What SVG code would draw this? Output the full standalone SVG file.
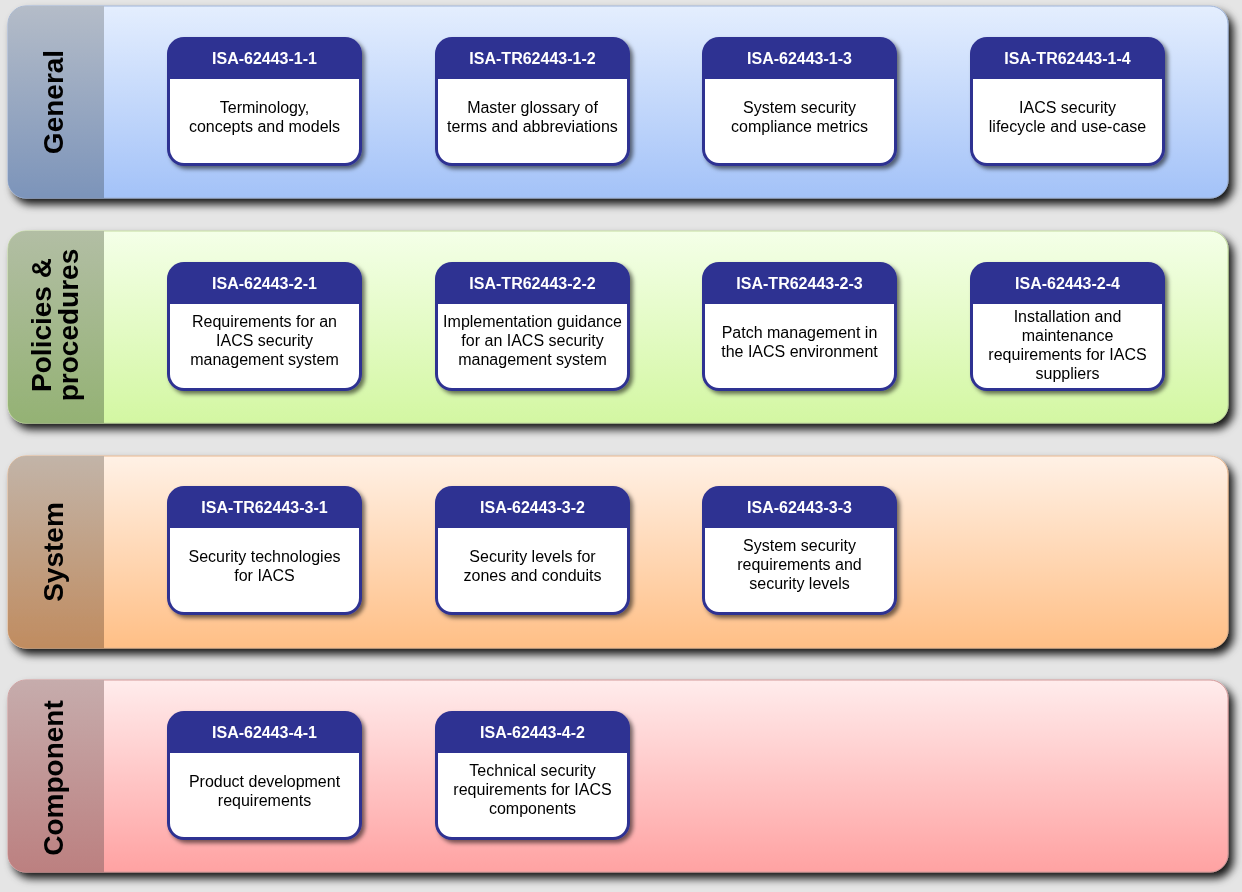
<svg xmlns="http://www.w3.org/2000/svg" width="1242" height="892" viewBox="0 0 1242 892">
<defs>
<style>
.bandlbl{font-family:"Liberation Sans",Arial,sans-serif;font-weight:bold;font-size:28px;fill:#000;text-anchor:middle}
.ttl{font-family:"Liberation Sans",Arial,sans-serif;font-weight:bold;font-size:16px;fill:#fff;text-anchor:middle}
.body{font-family:"Liberation Sans",Arial,sans-serif;font-size:16px;fill:#000;text-anchor:middle}
.boxo{fill:#2e3192}
.boxi{fill:#fff}
</style>
<filter id="bsh" x="-5%" y="-10%" width="112%" height="135%">
<feDropShadow dx="5" dy="6" stdDeviation="4" flood-color="#000" flood-opacity="0.9"/>
</filter>
<filter id="nsh" x="-10%" y="-10%" width="125%" height="125%">
<feDropShadow dx="3" dy="3" stdDeviation="2" flood-color="#000" flood-opacity="0.55"/>
</filter>
<linearGradient id="g1" x1="0" y1="0" x2="0" y2="1"><stop offset="0" stop-color="#e4eefe"/><stop offset="1" stop-color="#a3c2f8"/></linearGradient>
<linearGradient id="s1" x1="0" y1="0" x2="0" y2="1"><stop offset="0" stop-color="#b4bcc8"/><stop offset="1" stop-color="#7c94ba"/></linearGradient>
<linearGradient id="g2" x1="0" y1="0" x2="0" y2="1"><stop offset="0" stop-color="#f4ffe8"/><stop offset="1" stop-color="#d3f7a2"/></linearGradient>
<linearGradient id="s2" x1="0" y1="0" x2="0" y2="1"><stop offset="0" stop-color="#b2bea4"/><stop offset="1" stop-color="#94b274"/></linearGradient>
<linearGradient id="g3" x1="0" y1="0" x2="0" y2="1"><stop offset="0" stop-color="#fff1e6"/><stop offset="1" stop-color="#ffbf86"/></linearGradient>
<linearGradient id="s3" x1="0" y1="0" x2="0" y2="1"><stop offset="0" stop-color="#c2b4a8"/><stop offset="1" stop-color="#c08c60"/></linearGradient>
<linearGradient id="g4" x1="0" y1="0" x2="0" y2="1"><stop offset="0" stop-color="#ffecec"/><stop offset="1" stop-color="#ffa2a2"/></linearGradient>
<linearGradient id="s4" x1="0" y1="0" x2="0" y2="1"><stop offset="0" stop-color="#c6acac"/><stop offset="1" stop-color="#bc8080"/></linearGradient>
</defs>
<rect width="1242" height="892" fill="#e5e5e5"/>

<g id="band-general" filter="url(#bsh)">
<rect x="8" y="6" width="1220" height="192" rx="18" fill="url(#g1)" stroke="#9fb4d8" stroke-width="1"/>
<path d="M26,6 H104 V198 H26 A18,18 0 0 1 8,180 V24 A18,18 0 0 1 26,6 Z" fill="url(#s1)"/>
<text class="bandlbl" x="63" y="102" transform="rotate(-90 63 102)">General</text>
</g>
<g id="band-policies" filter="url(#bsh)">
<rect x="8" y="231" width="1220" height="192" rx="18" fill="url(#g2)" stroke="#c4dca0" stroke-width="1"/>
<path d="M26,231 H104 V423 H26 A18,18 0 0 1 8,405 V249 A18,18 0 0 1 26,231 Z" fill="url(#s2)"/>
<text class="bandlbl" transform="translate(51 325) rotate(-90)"><tspan x="0" y="0">Policies &amp;</tspan><tspan x="0" y="27">procedures</tspan></text>
</g>
<g id="band-system" filter="url(#bsh)">
<rect x="8" y="456" width="1220" height="192" rx="18" fill="url(#g3)" stroke="#e8b890" stroke-width="1"/>
<path d="M26,456 H104 V648 H26 A18,18 0 0 1 8,630 V474 A18,18 0 0 1 26,456 Z" fill="url(#s3)"/>
<text class="bandlbl" x="63" y="552" transform="rotate(-90 63 552)">System</text>
</g>
<g id="band-component" filter="url(#bsh)">
<rect x="8" y="680" width="1220" height="192" rx="18" fill="url(#g4)" stroke="#d49a9a" stroke-width="1"/>
<path d="M26,680 H104 V872 H26 A18,18 0 0 1 8,854 V698 A18,18 0 0 1 26,680 Z" fill="url(#s4)"/>
<text class="bandlbl" x="63" y="778" transform="rotate(-90 63 778)">Component</text>
</g>

<g id="connectors"/>

<!-- Row 1 -->
<g id="isa-62443-1-1" transform="translate(167 37)" filter="url(#nsh)">
<rect class="boxo" width="195" height="129" rx="17"/>
<path class="boxi" d="M3,42 H192 V112 A14,14 0 0 1 178,126 H17 A14,14 0 0 1 3,112 Z"/>
<text class="ttl" x="97.5" y="27">ISA-62443-1-1</text>
<text class="body"><tspan x="97.5" y="76">Terminology,</tspan><tspan x="97.5" y="95">concepts and models</tspan></text>
</g>
<g id="isa-tr62443-1-2" transform="translate(435 37)" filter="url(#nsh)">
<rect class="boxo" width="195" height="129" rx="17"/>
<path class="boxi" d="M3,42 H192 V112 A14,14 0 0 1 178,126 H17 A14,14 0 0 1 3,112 Z"/>
<text class="ttl" x="97.5" y="27">ISA-TR62443-1-2</text>
<text class="body"><tspan x="97.5" y="76">Master glossary of</tspan><tspan x="97.5" y="95">terms and abbreviations</tspan></text>
</g>
<g id="isa-62443-1-3" transform="translate(702 37)" filter="url(#nsh)">
<rect class="boxo" width="195" height="129" rx="17"/>
<path class="boxi" d="M3,42 H192 V112 A14,14 0 0 1 178,126 H17 A14,14 0 0 1 3,112 Z"/>
<text class="ttl" x="97.5" y="27">ISA-62443-1-3</text>
<text class="body"><tspan x="97.5" y="76">System security</tspan><tspan x="97.5" y="95">compliance metrics</tspan></text>
</g>
<g id="isa-tr62443-1-4" transform="translate(970 37)" filter="url(#nsh)">
<rect class="boxo" width="195" height="129" rx="17"/>
<path class="boxi" d="M3,42 H192 V112 A14,14 0 0 1 178,126 H17 A14,14 0 0 1 3,112 Z"/>
<text class="ttl" x="97.5" y="27">ISA-TR62443-1-4</text>
<text class="body"><tspan x="97.5" y="76">IACS security</tspan><tspan x="97.5" y="95">lifecycle and use-case</tspan></text>
</g>

<!-- Row 2 -->
<g id="isa-62443-2-1" transform="translate(167 262)" filter="url(#nsh)">
<rect class="boxo" width="195" height="129" rx="17"/>
<path class="boxi" d="M3,42 H192 V112 A14,14 0 0 1 178,126 H17 A14,14 0 0 1 3,112 Z"/>
<text class="ttl" x="97.5" y="27">ISA-62443-2-1</text>
<text class="body"><tspan x="97.5" y="65">Requirements for an</tspan><tspan x="97.5" y="84">IACS security</tspan><tspan x="97.5" y="103">management system</tspan></text>
</g>
<g id="isa-tr62443-2-2" transform="translate(435 262)" filter="url(#nsh)">
<rect class="boxo" width="195" height="129" rx="17"/>
<path class="boxi" d="M3,42 H192 V112 A14,14 0 0 1 178,126 H17 A14,14 0 0 1 3,112 Z"/>
<text class="ttl" x="97.5" y="27">ISA-TR62443-2-2</text>
<text class="body"><tspan x="97.5" y="65">Implementation guidance</tspan><tspan x="97.5" y="84">for an IACS security</tspan><tspan x="97.5" y="103">management system</tspan></text>
</g>
<g id="isa-tr62443-2-3" transform="translate(702 262)" filter="url(#nsh)">
<rect class="boxo" width="195" height="129" rx="17"/>
<path class="boxi" d="M3,42 H192 V112 A14,14 0 0 1 178,126 H17 A14,14 0 0 1 3,112 Z"/>
<text class="ttl" x="97.5" y="27">ISA-TR62443-2-3</text>
<text class="body"><tspan x="97.5" y="76">Patch management in</tspan><tspan x="97.5" y="95">the IACS environment</tspan></text>
</g>
<g id="isa-62443-2-4" transform="translate(970 262)" filter="url(#nsh)">
<rect class="boxo" width="195" height="129" rx="17"/>
<path class="boxi" d="M3,42 H192 V112 A14,14 0 0 1 178,126 H17 A14,14 0 0 1 3,112 Z"/>
<text class="ttl" x="97.5" y="27">ISA-62443-2-4</text>
<text class="body"><tspan x="97.5" y="60">Installation and</tspan><tspan x="97.5" y="79">maintenance</tspan><tspan x="97.5" y="98">requirements for IACS</tspan><tspan x="97.5" y="117">suppliers</tspan></text>
</g>

<!-- Row 3 -->
<g id="isa-tr62443-3-1" transform="translate(167 486)" filter="url(#nsh)">
<rect class="boxo" width="195" height="129" rx="17"/>
<path class="boxi" d="M3,42 H192 V112 A14,14 0 0 1 178,126 H17 A14,14 0 0 1 3,112 Z"/>
<text class="ttl" x="97.5" y="27">ISA-TR62443-3-1</text>
<text class="body"><tspan x="97.5" y="76">Security technologies</tspan><tspan x="97.5" y="95">for IACS</tspan></text>
</g>
<g id="isa-62443-3-2" transform="translate(435 486)" filter="url(#nsh)">
<rect class="boxo" width="195" height="129" rx="17"/>
<path class="boxi" d="M3,42 H192 V112 A14,14 0 0 1 178,126 H17 A14,14 0 0 1 3,112 Z"/>
<text class="ttl" x="97.5" y="27">ISA-62443-3-2</text>
<text class="body"><tspan x="97.5" y="76">Security levels for</tspan><tspan x="97.5" y="95">zones and conduits</tspan></text>
</g>
<g id="isa-62443-3-3" transform="translate(702 486)" filter="url(#nsh)">
<rect class="boxo" width="195" height="129" rx="17"/>
<path class="boxi" d="M3,42 H192 V112 A14,14 0 0 1 178,126 H17 A14,14 0 0 1 3,112 Z"/>
<text class="ttl" x="97.5" y="27">ISA-62443-3-3</text>
<text class="body"><tspan x="97.5" y="65">System security</tspan><tspan x="97.5" y="84">requirements and</tspan><tspan x="97.5" y="103">security levels</tspan></text>
</g>

<!-- Row 4 -->
<g id="isa-62443-4-1" transform="translate(167 711)" filter="url(#nsh)">
<rect class="boxo" width="195" height="129" rx="17"/>
<path class="boxi" d="M3,42 H192 V112 A14,14 0 0 1 178,126 H17 A14,14 0 0 1 3,112 Z"/>
<text class="ttl" x="97.5" y="27">ISA-62443-4-1</text>
<text class="body"><tspan x="97.5" y="76">Product development</tspan><tspan x="97.5" y="95">requirements</tspan></text>
</g>
<g id="isa-62443-4-2" transform="translate(435 711)" filter="url(#nsh)">
<rect class="boxo" width="195" height="129" rx="17"/>
<path class="boxi" d="M3,42 H192 V112 A14,14 0 0 1 178,126 H17 A14,14 0 0 1 3,112 Z"/>
<text class="ttl" x="97.5" y="27">ISA-62443-4-2</text>
<text class="body"><tspan x="97.5" y="65">Technical security</tspan><tspan x="97.5" y="84">requirements for IACS</tspan><tspan x="97.5" y="103">components</tspan></text>
</g>
</svg>
